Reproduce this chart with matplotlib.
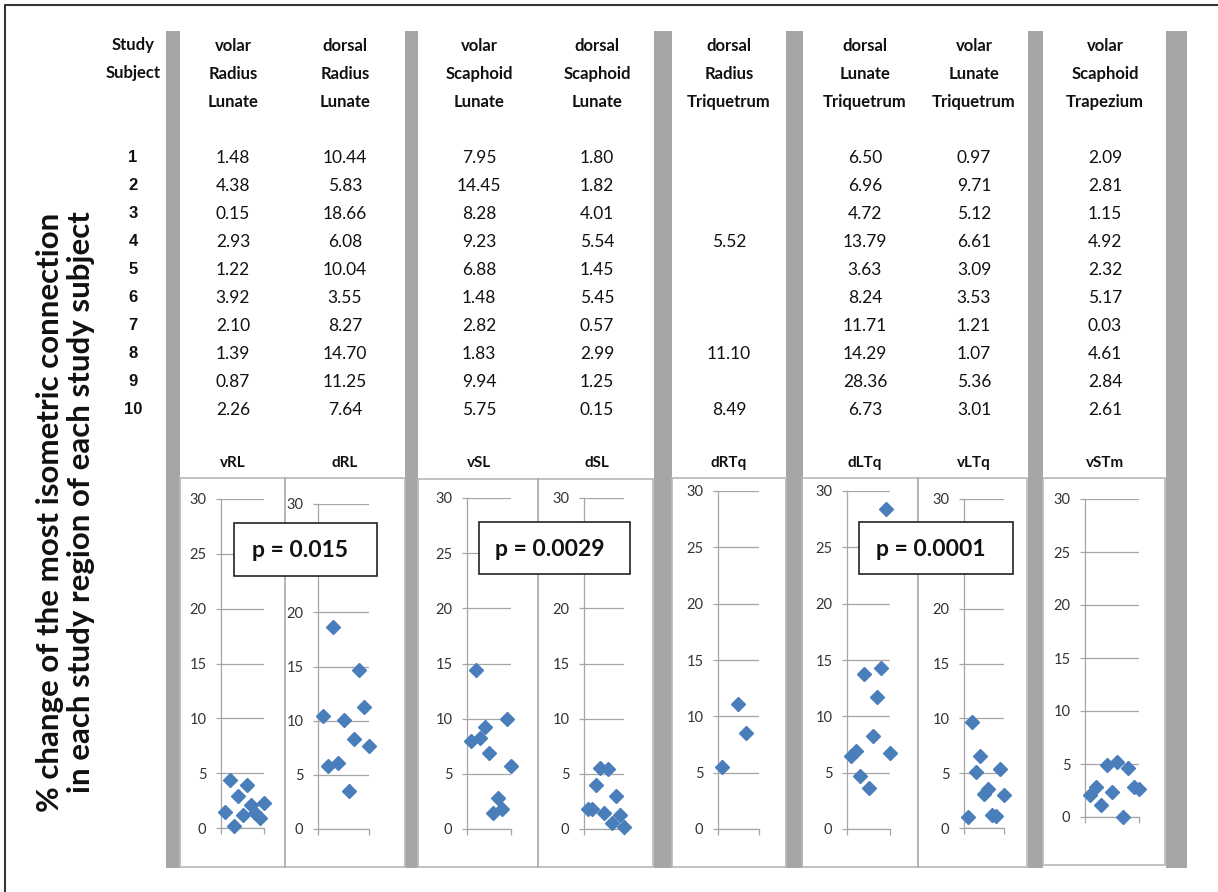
import matplotlib.pyplot as plt
from matplotlib.patches import Rectangle

W, H = 1218, 892
plt.rcParams['font.family'] = ['Lato', 'DejaVu Sans']

# ---- data ----
subjects = list(range(1, 11))
col_titles = ['volar\nRadius\nLunate', 'dorsal\nRadius\nLunate',
              'volar\nScaphoid\nLunate', 'dorsal\nScaphoid\nLunate',
              'dorsal\nRadius\nTriquetrum', 'dorsal\nLunate\nTriquetrum',
              'volar\nLunate\nTriquetrum', 'volar\nScaphoid\nTrapezium']
col_abbr = ['vRL', 'dRL', 'vSL', 'dSL', 'dRTq', 'dLTq', 'vLTq', 'vSTm']

vRL = [1.48, 4.38, 0.15, 2.93, 1.22, 3.92, 2.10, 1.39, 0.87, 2.26]
dRL = [10.44, 5.83, 18.66, 6.08, 10.04, 3.55, 8.27, 14.70, 11.25, 7.64]
vSL = [7.95, 14.45, 8.28, 9.23, 6.88, 1.48, 2.82, 1.83, 9.94, 5.75]
dSL = [1.80, 1.82, 4.01, 5.54, 1.45, 5.45, 0.57, 2.99, 1.25, 0.15]
dRTq = [None, None, None, 5.52, None, None, None, 11.10, None, 8.49]
dLTq = [6.50, 6.96, 4.72, 13.79, 3.63, 8.24, 11.71, 14.29, 28.36, 6.73]
vLTq = [0.97, 9.71, 5.12, 6.61, 3.09, 3.53, 1.21, 1.07, 5.36, 3.01]
vSTm = [2.09, 2.81, 1.15, 4.92, 2.32, 5.17, 0.03, 4.61, 2.84, 2.61]
series = [vRL, dRL, vSL, dSL, dRTq, dLTq, vLTq, vSTm]

p_labels = ['p = 0.015', 'p = 0.0029', 'p = 0.0001']
ylabel = ('% change of the most isometric connection\n'
          'in each study region of each study subject')

# ---- layout (pixels) ----
col_x = [233, 345, 479, 597, 729, 865, 974, 1105]
gray_bars = [(166, 180), (405, 418), (654, 672), (786, 803), (1028, 1043), (1166, 1187)]
frames = [(180, 405, 478, 867, [285]), (418, 653, 479, 867, [538]),
          (672, 786, 478, 867, []), (802, 1027, 478, 867, [918]),
          (1043, 1165, 478, 865, [])]
# axis x, right end, y of 30, y of 0, x-limits
panels = [(221, 264, 499, 828, (0, 10)), (318, 369, 504, 829, (0, 10)),
          (467, 511, 498, 829, (0, 10)), (584, 624, 498, 829, (0, 10)),
          (718, 759, 491, 829, (3, 13.25)), (847, 890, 491, 829, (0, 10)),
          (964, 1004, 499, 828, (0, 10)), (1085, 1139, 499, 817, (0, 10))]
# panels whose "25" label sits under a p-value box
hidden_25 = {1, 3, 6}
p_boxes = [(234, 377, 523, 576), (479, 630, 522, 574), (859, 1013, 522, 574)]

fig = plt.figure(figsize=(W / 100, H / 100), dpi=100)
bg = fig.add_axes([0, 0, 1, 1])
bg.set_xlim(0, W)
bg.set_ylim(H, 0)
bg.axis('off')

# outer frame (top and left)
bg.plot([5, 5, W], [H, 5, 5], color='#333333', lw=1.5, solid_capstyle='butt')

for x0, x1 in gray_bars:
    bg.add_patch(Rectangle((x0, 31), x1 - x0, 868 - 31, color='#a6a6a6', lw=0))

for x0, x1, y0, y1, divs in frames:
    bg.add_patch(Rectangle((x0, y0), x1 - x0, y1 - y0, fill=False,
                           ec='#b8b8b8', lw=1.2))
    for d in divs:
        bg.plot([d, d], [y0, y1], color='#a8a8a8', lw=1.2)

# table
txt = '#111111'
bg.text(133, 45, 'Study', ha='center', va='center', fontsize=12, fontweight='bold', color=txt)
bg.text(133, 73, 'Subject', ha='center', va='center', fontsize=12, fontweight='bold', color=txt)
for i, s in enumerate(subjects):
    bg.text(133, 158 + 28 * i, str(s), ha='center', va='center', fontsize=12,
            fontweight='bold', family='Liberation Sans', color=txt)

for cx, title, abbr, vals in zip(col_x, col_titles, col_abbr, series):
    for j, line in enumerate(title.split('\n')):
        bg.text(cx, 46 + 28 * j, line, ha='center', va='center', fontsize=12,
                fontweight='bold', color=txt)
    for i, v in enumerate(vals):
        if v is not None:
            bg.text(cx, 158 + 28 * i, f'{v:.2f}', ha='center', va='center',
                    fontsize=12.5, color=txt)
    bg.text(cx, 463, abbr, ha='center', va='center', fontsize=11,
            fontweight='bold', color=txt)

bg.text(50, 512, ylabel.split('\n')[0], rotation=90, ha='center', va='center',
        fontsize=22.5, fontweight='bold', color=txt)
bg.text(81, 502, ylabel.split('\n')[1], rotation=90, ha='center', va='center',
        fontsize=22.5, fontweight='bold', color=txt)

# scatter panels
for k, ((ax0, ax1, y30, y0, xl), vals) in enumerate(zip(panels, series)):
    ax = fig.add_axes([ax0 / W, 1 - y0 / H, (ax1 - ax0) / W, (y0 - y30) / H])
    ax.patch.set_visible(False)
    xs = [s for s, v in zip(subjects, vals) if v is not None]
    ys = [v for v in vals if v is not None]
    ax.plot(xs, ys, 'D', ms=7, color='#4a7ebb', clip_on=False, zorder=5)
    ax.set_xlim(*xl)
    ax.set_ylim(0, 30)
    yt = list(range(0, 31, 5))
    ax.set_yticks(yt)
    ax.set_yticklabels(['' if (t == 25 and k in hidden_25) else str(t) for t in yt])
    ax.set_xticks(list(xl))
    ax.set_xticklabels([])
    ax.yaxis.grid(True, color='#a6a6a6', lw=0.9)
    ax.set_axisbelow(True)
    for sp in ['top', 'right']:
        ax.spines[sp].set_visible(False)
    for sp in ['left', 'bottom']:
        ax.spines[sp].set_color('#a6a6a6')
        ax.spines[sp].set_linewidth(0.9)
    ax.tick_params(axis='y', length=3.5, width=0.9, color='#a6a6a6', pad=7,
                   labelsize=10.5, labelcolor='#333333')
    ax.tick_params(axis='x', length=4.5, width=0.9, color='#a6a6a6')

# p-value boxes on top
fg = fig.add_axes([0, 0, 1, 1])
fg.set_xlim(0, W)
fg.set_ylim(H, 0)
fg.axis('off')
for (x0, x1, y0, y1), lab in zip(p_boxes, p_labels):
    fg.add_patch(Rectangle((x0, y0), x1 - x0, y1 - y0, fc='white', ec='#222222', lw=1.2))
    fg.text((x0 + x1) / 2 - 5, (y0 + y1) / 2 + 1, lab, ha='center', va='center',
            fontsize=16.5, fontweight='bold', color='#111111')

fig.savefig('out.png', dpi=100)
